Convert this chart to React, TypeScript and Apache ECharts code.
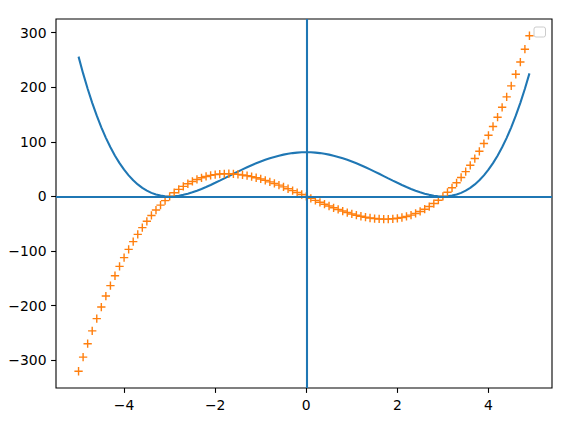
import React, { useEffect, useRef } from "react";
import * as echarts from "echarts";

const xs = [
  -5.0, -4.9, -4.8, -4.7, -4.6, -4.5, -4.4, -4.3, -4.2, -4.1,
  -4.0, -3.9, -3.8, -3.7, -3.6, -3.5, -3.4, -3.3, -3.2, -3.1,
  -3.0, -2.9, -2.8, -2.7, -2.6, -2.5, -2.4, -2.3, -2.2, -2.1,
  -2.0, -1.9, -1.8, -1.7, -1.6, -1.5, -1.4, -1.3, -1.2, -1.1,
  -1.0, -0.9, -0.8, -0.7, -0.6, -0.5, -0.4, -0.3, -0.2, -0.1,
  0.0, 0.1, 0.2, 0.3, 0.4, 0.5, 0.6, 0.7, 0.8, 0.9,
  1.0, 1.1, 1.2, 1.3, 1.4, 1.5, 1.6, 1.7, 1.8, 1.9,
  2.0, 2.1, 2.2, 2.3, 2.4, 2.5, 2.6, 2.7, 2.8, 2.9,
  3.0, 3.1, 3.2, 3.3, 3.4, 3.5, 3.6, 3.7, 3.8, 3.9,
  4.0, 4.1, 4.2, 4.3, 4.4, 4.5, 4.6, 4.7, 4.8, 4.9,
];

const blueCurve = [
  256.0, 225.3, 197.12, 171.35, 147.87, 126.56, 107.33, 90.06, 74.65, 61.0,
  49.0, 38.56, 29.59, 22.0, 15.68, 10.56, 6.55, 3.57, 1.54, 0.37,
  0.0, 0.35, 1.35, 2.92, 5.02, 7.56, 10.5, 13.76, 17.31, 21.07,
  25.0, 29.05, 33.18, 37.33, 41.47, 45.56, 49.56, 53.44, 57.15, 60.68,
  64.0, 67.08, 69.89, 72.42, 74.65, 76.56, 78.15, 79.39, 80.28, 80.82,
  81.0, 80.82, 80.28, 79.39, 78.15, 76.56, 74.65, 72.42, 69.89, 67.08,
  64.0, 60.68, 57.15, 53.44, 49.56, 45.56, 41.47, 37.33, 33.18, 29.05,
  25.0, 21.07, 17.31, 13.76, 10.5, 7.56, 5.02, 2.92, 1.35, 0.35,
  0.0, 0.37, 1.54, 3.57, 6.55, 10.56, 15.68, 22.0, 29.59, 38.56,
  49.0, 61.0, 74.65, 90.06, 107.33, 126.56, 147.87, 171.35, 197.12, 225.3,
];

const orangeMarks = [
  -320.0, -294.2, -269.57, -246.09, -223.74, -202.5, -182.34, -163.23, -145.15, -128.08,
  -112.0, -96.88, -82.69, -69.41, -57.02, -45.5, -34.82, -24.95, -15.87, -7.56,
  0.0, 6.84, 12.99, 18.47, 23.3, 27.5, 31.1, 34.13, 36.61, 38.56,
  40.0, 40.96, 41.47, 41.55, 41.22, 40.5, 39.42, 38.01, 36.29, 34.28,
  32.0, 29.48, 26.75, 23.83, 20.74, 17.5, 14.14, 10.69, 7.17, 3.6,
  0.0, -3.6, -7.17, -10.69, -14.14, -17.5, -20.74, -23.83, -26.75, -29.48,
  -32.0, -34.28, -36.29, -38.01, -39.42, -40.5, -41.22, -41.55, -41.47, -40.96,
  -40.0, -38.56, -36.61, -34.13, -31.1, -27.5, -23.3, -18.47, -12.99, -6.84,
  0.0, 7.56, 15.87, 24.95, 34.82, 45.5, 57.02, 69.41, 82.69, 96.88,
  112.0, 128.08, 145.15, 163.23, 182.34, 202.5, 223.74, 246.09, 269.57, 294.2,
];

const xTicks = [-4, -2, 0, 2, 4];
const yTicks = [-300, -200, -100, 0, 100, 200, 300];

const FONT = "DejaVu Sans";
const fmt = (v: number) => (v < 0 ? "\u2212" + String(-v) : String(v));

const plusPath =
  "path://M41.5,0 L58.5,0 L58.5,41.5 L100,41.5 L100,58.5 L58.5,58.5 L58.5,100 L41.5,100 L41.5,58.5 L0,58.5 L0,41.5 L41.5,41.5 Z";

export default function App() {
  const ref = useRef<HTMLDivElement>(null);
  useEffect(() => {
    if (!ref.current) return;
    const chart = echarts.init(ref.current, null, { renderer: "svg" });
    const tickStyle = {
      show: true,
      inside: false,
      length: 4.9,
      lineStyle: { color: "#000", width: 1.1 },
    };
    const labelStyle = {
      formatter: (v: number) => fmt(v),
      color: "#000",
      fontSize: 13.9,
      fontFamily: FONT,
      margin: 9.5,
    };
    chart.setOption({
      animation: false,
      backgroundColor: "#ffffff",
      grid: {
        left: 56,
        top: 19,
        width: 496,
        height: 369,
        show: true,
        borderColor: "#000000",
        borderWidth: 1.1,
        backgroundColor: "transparent",
      },
      xAxis: {
        type: "value",
        position: "bottom",
        min: -5.495,
        max: 5.395,
        splitLine: { show: false },
        axisLine: { show: false, onZero: false },
        axisTick: { ...tickStyle, customValues: xTicks },
        axisLabel: { ...labelStyle, customValues: xTicks },
      },
      yAxis: {
        type: "value",
        position: "left",
        min: -350.71,
        max: 324.9,
        splitLine: { show: false },
        axisLine: { show: false, onZero: false },
        axisTick: { ...tickStyle, customValues: yTicks },
        axisLabel: { ...labelStyle, customValues: yTicks },
      },
      series: [
        {
          type: "line",
          data: xs.map((x, i) => [x, blueCurve[i]]),
          showSymbol: false,
          lineStyle: { color: "#1f77b4", width: 2.08 },
          itemStyle: { color: "#1f77b4" },
          z: 2,
        },
        {
          type: "scatter",
          data: xs.map((x, i) => [x, orangeMarks[i]]),
          symbol: plusPath,
          symbolSize: 8.3,
          itemStyle: { color: "#ff7f0e", opacity: 1 },
          z: 3,
        },
        {
          type: "scatter",
          data: [],
          z: 4,
          markLine: {
            silent: true,
            symbol: ["none", "none"],
            label: { show: false },
            lineStyle: { color: "#1f77b4", width: 2.08, type: "solid" },
            data: [{ xAxis: 0 }, { yAxis: 0 }],
          },
        },
      ],
      graphic: [
        {
          type: "rect",
          shape: { x: 534, y: 27, width: 11.5, height: 10, r: 2 },
          style: { fill: "rgba(255,255,255,0.8)", stroke: "#cccccc", lineWidth: 1 },
          z: 10,
        },
      ],
    });
    return () => chart.dispose();
  }, []);
  return (
    <div
      ref={ref}
      style={{ position: "absolute", left: 0, top: 0, width: 572, height: 424 }}
    />
  );
}
